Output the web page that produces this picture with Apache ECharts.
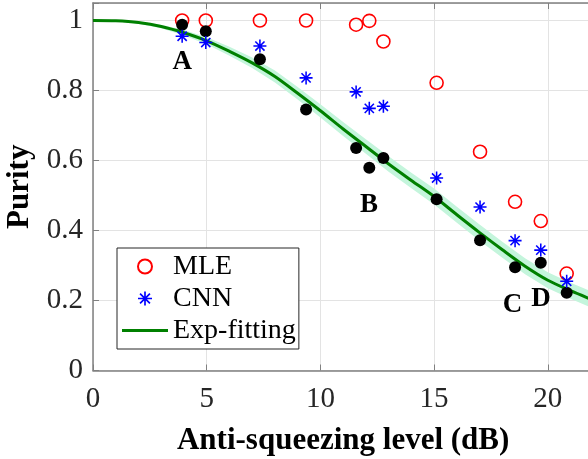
<!DOCTYPE html>
<html>
<head>
<meta charset="utf-8">
<script src="https://cdn.jsdelivr.net/npm/echarts@6/dist/echarts.min.js"></script>
<style>
  html, body { margin: 0; padding: 0; background: #fff; }
  #chart { width: 588px; height: 459px; }
</style>
</head>
<body>
<div id="chart"></div>
<script>
// anti-squeezing levels (dB)
var levels = [3.92, 4.96, 7.34, 9.37, 11.57, 12.15, 12.77, 15.11, 17.02, 18.56, 19.69, 20.83];
// purity estimates
var mleValues = [1.0, 1.0, 1.0, 1.0, 0.988, 0.999, 0.94, 0.822, 0.625, 0.482, 0.427, 0.277];
var cnnValues = [0.955, 0.937, 0.927, 0.836, 0.796, 0.749, 0.755, 0.55, 0.467, 0.371, 0.344, 0.255];
var trueValues = [0.988, 0.969, 0.889, 0.746, 0.636, 0.579, 0.607, 0.489, 0.372, 0.295, 0.308, 0.222];

// exp-fitting curve, with its shaded band
var fitX = [0, 1, 2, 3, 4, 5, 6, 7, 8, 9, 10, 11, 12, 13, 14, 15, 16, 17, 18, 19, 20, 21, 21.8];
var fitY = [1.0, 0.999, 0.994, 0.983, 0.965, 0.942, 0.912, 0.879, 0.840, 0.792, 0.742, 0.690, 0.640,
            0.590, 0.543, 0.497, 0.445, 0.394, 0.345, 0.298, 0.258, 0.228, 0.206];
var bandHalf = [0, 0.001, 0.003, 0.005, 0.008, 0.010, 0.013, 0.015, 0.017, 0.018, 0.019, 0.020, 0.021,
                0.022, 0.022, 0.023, 0.023, 0.023, 0.023, 0.023, 0.023, 0.023, 0.023];

// point labels
var markNames = ['A', 'B', 'C', 'D'];
var markX = [3.93, 12.14, 18.45, 19.70];
var markY = [0.880, 0.474, 0.188, 0.205];

var xTicks = [0, 5, 10, 15, 20];
var yTicks = [0, 0.2, 0.4, 0.6, 0.8, 1];

var serif = '"Liberation Serif", "Times New Roman", serif';
var axisGray = '#808080';

var starPath = 'path://M0 44L100 44L100 56L0 56Z M44 0L56 0L56 100L44 100Z ' +
  'M18.88 10.4L89.6 81.12L81.12 89.6L10.4 18.88Z M89.6 18.88L18.88 89.6L10.4 81.12L81.12 10.4Z';
var lineIcon = 'path://M0 0L46 0L46 3L0 3Z';

function pairs(xs, ys) {
  return xs.map(function(x, i) { return [x, ys[i]]; });
}

var chart = echarts.init(document.getElementById('chart'));

var option = {
  backgroundColor: '#fff',
  animation: false,
  grid: { left: 93, top: 3, width: 500.3, height: 367.5, containLabel: false, outerBoundsMode: 'none' },
  xAxis: [{
    type: 'value', min: 0, max: 22, interval: 5,
    name: 'Anti-squeezing level (dB)', nameLocation: 'middle', nameGap: 55,
    nameTextStyle: { fontFamily: serif, fontSize: 31, fontWeight: 'bold', color: '#000' },
    axisLine: { show: true, lineStyle: { color: axisGray, width: 1.5 } },
    axisTick: { show: true, inside: true, length: 6, lineStyle: { color: axisGray } },
    axisLabel: {
      fontFamily: serif, fontSize: 29, color: '#262626', margin: 14,
      formatter: function(v) { return xTicks.indexOf(v) >= 0 ? String(v) : ''; }
    },
    splitLine: { show: true, lineStyle: { color: '#e3e3e3', width: 1 } }
  }, {
    type: 'value', position: 'top', min: 0, max: 22, interval: 5,
    axisLine: { show: true, lineStyle: { color: axisGray, width: 1.5 } },
    axisTick: { show: true, inside: true, length: 6, lineStyle: { color: axisGray } },
    axisLabel: { show: false },
    splitLine: { show: false }
  }],
  yAxis: {
    type: 'value', min: 0, max: 1.05, interval: 0.2,
    name: 'Purity', nameLocation: 'middle', nameGap: 56,
    nameTextStyle: { fontFamily: serif, fontSize: 31, fontWeight: 'bold', color: '#000' },
    axisLine: { show: true, lineStyle: { color: axisGray, width: 1.5 } },
    axisTick: { show: true, inside: true, length: 6, lineStyle: { color: axisGray } },
    axisLabel: {
      fontFamily: serif, fontSize: 29, color: '#262626', margin: 10,
      formatter: function(v) {
        for (var i = 0; i < yTicks.length; i++) {
          if (Math.abs(yTicks[i] - v) < 1e-6) return String(yTicks[i]);
        }
        return '';
      }
    },
    splitLine: { show: true, lineStyle: { color: '#e3e3e3', width: 1 } }
  },
  legend: {
    data: ['MLE', 'CNN', { name: 'Exp-fitting', icon: lineIcon }],
    orient: 'vertical', left: 117, top: 248,
    padding: [4, 3, 4, 5], itemGap: 3,
    itemWidth: 46, itemHeight: 14, itemTextGap: 3,
    backgroundColor: '#fff', borderColor: '#262626', borderWidth: 1, borderRadius: 0,
    textStyle: { fontFamily: serif, fontSize: 28, color: '#000', lineHeight: 29 }
  },
  series: [{
    name: 'band', type: 'custom', silent: true, clip: true, z: 1,
    data: [[0, 1]],
    renderItem: function(params, api) {
      var pts = [];
      for (var i = 0; i < fitX.length; i++) pts.push(api.coord([fitX[i], fitY[i] + bandHalf[i]]));
      for (var j = fitX.length - 1; j >= 0; j--) pts.push(api.coord([fitX[j], fitY[j] - bandHalf[j]]));
      return { type: 'polygon', shape: { points: pts }, style: { fill: '#c4f5dc' } };
    }
  }, {
    name: 'Exp-fitting', type: 'line', z: 2,
    data: pairs(fitX, fitY),
    symbol: 'none', smooth: 0.3,
    lineStyle: { color: '#008000', width: 3 },
    itemStyle: { color: '#008000' }
  }, {
    name: 'MLE', type: 'scatter', z: 3,
    data: pairs(levels, mleValues),
    symbol: 'circle', symbolSize: 13,
    itemStyle: { color: 'rgba(255,255,255,0)', borderColor: '#ff0000', borderWidth: 1.6, opacity: 1 }
  }, {
    name: 'truth', type: 'scatter', z: 4,
    data: pairs(levels, trueValues),
    symbol: 'circle', symbolSize: 12,
    itemStyle: { color: '#000', opacity: 1 }
  }, {
    name: 'CNN', type: 'scatter', z: 5,
    data: pairs(levels, cnnValues),
    symbol: starPath, symbolSize: 13,
    itemStyle: { color: '#0000ff', opacity: 1 }
  }, {
    name: 'marks', type: 'scatter', z: 6, silent: true,
    data: markNames.map(function(n, i) { return { name: n, value: [markX[i], markY[i]] }; }),
    symbolSize: 0,
    itemStyle: { opacity: 1 },
    label: {
      show: true, position: 'inside', formatter: '{b}',
      fontFamily: serif, fontSize: 27, fontWeight: 'bold', color: '#000', opacity: 1
    }
  }]
};

chart.setOption(option);
</script>
</body>
</html>
